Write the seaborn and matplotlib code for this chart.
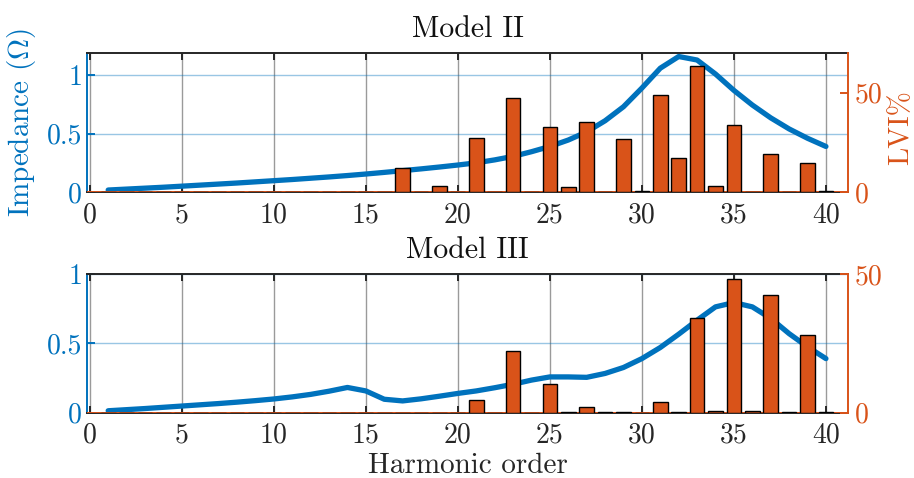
import matplotlib
matplotlib.use("Agg")
import matplotlib.pyplot as plt
import numpy as np
import pandas as pd
import seaborn as sns

# Harmonic orders and per-model data
harmonics = list(range(1, 41))

z_model2 = [0.017, 0.025, 0.033, 0.041, 0.050, 0.059, 0.068, 0.077, 0.087, 0.097,
            0.107, 0.118, 0.129, 0.141, 0.154, 0.168, 0.183, 0.198, 0.214, 0.231,
            0.250, 0.275, 0.305, 0.345, 0.390, 0.445, 0.515, 0.610, 0.730, 0.890,
            1.060, 1.160, 1.130, 1.010, 0.870, 0.745, 0.635, 0.540, 0.460, 0.390]

lvi_model2 = [0, 0, 0, 0, 0, 0, 0, 0, 0, 0,
              0, 0, 0, 0, 0, 0, 12.0, 0, 3.0, 0,
              27.4, 0, 47.3, 0, 32.7, 2.4, 35.2, 0, 26.6, 0.3,
              49.0, 17.3, 63.3, 3.0, 33.7, 0, 19.3, 0, 14.6, 0.3]

z_model3 = [0.014, 0.022, 0.030, 0.039, 0.048, 0.057, 0.066, 0.076, 0.087, 0.099,
            0.114, 0.132, 0.155, 0.182, 0.157, 0.097, 0.085, 0.100, 0.119, 0.139,
            0.157, 0.180, 0.205, 0.235, 0.258, 0.258, 0.255, 0.283, 0.326, 0.390,
            0.470, 0.566, 0.667, 0.763, 0.794, 0.763, 0.680, 0.570, 0.475, 0.390]

lvi_model3 = [0, 0, 0, 0, 0, 0, 0, 0, 0, 0,
              0, 0, 0, 0, 0, 0, 0, 0, 0, 0,
              4.6, 0, 22.3, 0, 10.3, 0.3, 2.2, 0.2, 0.2, 0,
              3.9, 0.1, 34.0, 0.5, 48.1, 0.5, 42.4, 0.3, 27.9, 0.3]

titles = ["Model II", "Model III"]
x_ticks = [0, 5, 10, 15, 20, 25, 30, 35, 40]
z_ticks = [[0, 0.5, 1], [0, 0.5, 1]]
z_ticklabels = [["0", "0.5", "1"], ["0", "0.5", "1"]]
z_limits = [(0, 1.19), (0, 1.0)]
lvi_ticks = [[0, 50], [0, 50]]
lvi_limits = [(0, 70), (0, 50)]

BLUE = "#0072BD"
ORANGE = "#D95319"
TICK_FS = 20
LABEL_FS = 21
TITLE_FS = 21.5

sns.set_theme(style="white")
plt.rcParams.update({
    "font.family": ["cmr10", "DejaVu Serif"],
    "mathtext.fontset": "cm",
    "axes.formatter.use_mathtext": True,
    "axes.unicode_minus": False,
})

fig = plt.figure(figsize=(9.14, 4.78), dpi=100)
axes = [fig.add_axes([0.0952, 0.5983, 0.8326, 0.2908]),
        fig.add_axes([0.0952, 0.1366, 0.8326, 0.2902])]

datasets = [(z_model2, lvi_model2), (z_model3, lvi_model3)]

for i, (ax, (z, lvi)) in enumerate(zip(axes, datasets)):
    ax.set_facecolor("white")
    ax.xaxis.grid(True, color="#9a9a9a", linewidth=1.0)
    ax.yaxis.grid(True, color=BLUE, alpha=0.4, linewidth=1.0)
    ax.set_axisbelow(True)

    sns.lineplot(x=harmonics, y=z, color=BLUE, linewidth=3.8, ax=ax, zorder=3)

    ax2 = ax.twinx()
    df = pd.DataFrame({"h": harmonics, "lvi": lvi})
    ax2.axhline(0, color=ORANGE, linewidth=1.4, zorder=1)
    sns.barplot(data=df, x="h", y="lvi", native_scale=True, width=0.8,
                color=ORANGE, saturation=1, edgecolor="black", linewidth=1.0,
                errorbar=None, ax=ax2, zorder=2)

    ax.set_xlim(-0.15, 41.2)
    ax.set_xticks(x_ticks)
    ax.set_xticklabels([str(t) for t in x_ticks])
    ax.set_ylim(*z_limits[i])
    ax.set_yticks(z_ticks[i])
    ax.set_yticklabels(z_ticklabels[i])
    ax2.set_ylim(*lvi_limits[i])
    ax2.set_yticks(lvi_ticks[i])
    ax2.set_yticklabels([str(t) for t in lvi_ticks[i]])
    ax2.set_xlabel("")
    ax2.set_ylabel("")
    ax.set_xlabel("")
    ax.set_ylabel("")

    for s in ["top", "bottom"]:
        ax.spines[s].set_color("#262626")
        ax.spines[s].set_linewidth(1.4)
    ax.spines["left"].set_color(BLUE)
    ax.spines["left"].set_linewidth(1.4)
    ax.spines["right"].set_visible(False)
    for s in ["top", "bottom", "left"]:
        ax2.spines[s].set_visible(False)
    ax2.spines["right"].set_color(ORANGE)
    ax2.spines["right"].set_linewidth(1.4)

    ax.tick_params(axis="x", direction="in", top=True, bottom=True, length=5,
                   width=1.4, color="#262626", labelcolor="#262626",
                   labelsize=TICK_FS, pad=7)
    ax.tick_params(axis="y", direction="in", length=6, width=1.4, colors=BLUE,
                   labelsize=TICK_FS, pad=3.5)
    ax2.tick_params(axis="y", direction="in", length=6, width=1.4, colors=ORANGE,
                    labelsize=TICK_FS, pad=5)
    ax2.tick_params(axis="x", top=False, bottom=False, labeltop=False,
                    labelbottom=False)

    ax.set_title(titles[i], fontsize=TITLE_FS, color="#111111", pad=11.5)

    if i == 0:
        ax.set_ylabel(r"Impedance ($\Omega$)", fontsize=LABEL_FS, color=BLUE)
        ax.yaxis.set_label_coords(-0.064, 0.5)
        ax2.set_ylabel("LVI%", fontsize=LABEL_FS, color=ORANGE)
        ax2.yaxis.set_label_coords(1.0526, 0.464)
    else:
        ax.set_xlabel("Harmonic order", fontsize=LABEL_FS, color="#262626",
                      labelpad=3)

fig.savefig("out.png", dpi=100, facecolor="white")
